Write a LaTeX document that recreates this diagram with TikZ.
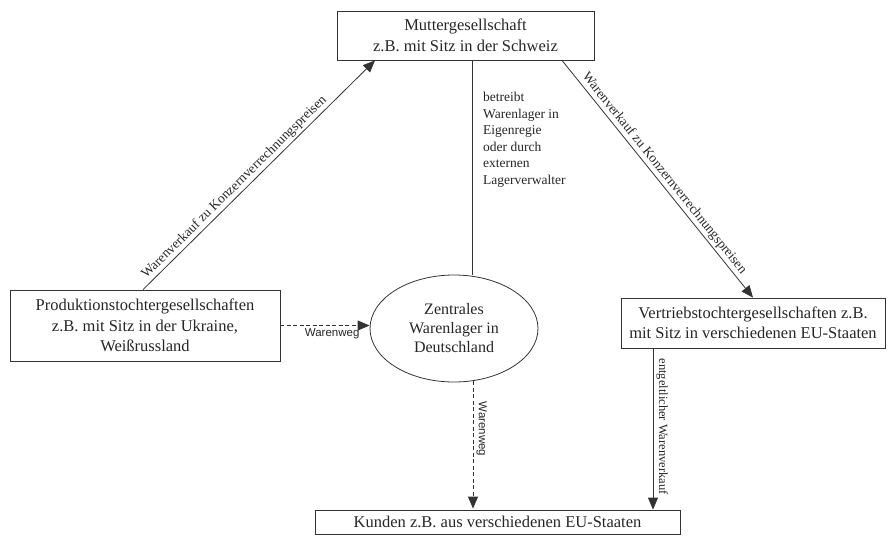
\documentclass[tikz,border=0pt]{standalone}
\usepackage{fontspec}
\setmainfont{Liberation Serif}
\newfontfamily\labsans{Liberation Sans}
\usetikzlibrary{arrows.meta,shapes.geometric,calc}
\begin{document}
\begin{tikzpicture}[x=1pt,y=-1pt,
  box/.style={draw=black!80, line width=0.8pt, rectangle, inner sep=0pt, align=center,
    font=\fontsize{16.5}{20.5}\selectfont, text=black!85},
  conn/.style={draw=black!80, line width=0.8pt},
  arr/.style={conn, -{Triangle[length=12pt,width=10pt]}},
  darr/.style={arr, dash pattern=on 4pt off 2.5pt},
  lab/.style={font=\fontsize{13.5}{16}\selectfont, text=black!85, inner sep=2pt},
  vlab/.style={font=\fontsize{12.5}{15}\selectfont, text=black!85, inner sep=3pt},
  slab/.style={font=\labsans\fontsize{11.5}{14}\selectfont, text=black!85, inner sep=3pt}
]
\useasboundingbox (0,0) rectangle (888,539);

\node[box, minimum width=257pt, minimum height=49pt] (top) at (465.5,35.5)
  {Muttergesellschaft\\z.B. mit Sitz in der Schweiz};
\node[box, minimum width=270pt, minimum height=71pt] (prod) at (145,325.5)
  {Produktionstochtergesellschaften\\z.B. mit Sitz in der Ukraine,\\Weißrussland};
\node[box, ellipse, minimum width=168pt, minimum height=107pt,
  font=\fontsize{16}{19}\selectfont] (lager) at (454,328.5)
  {Zentrales\\Warenlager in\\Deutschland};
\node[box, minimum width=264pt, minimum height=50pt] (vertr) at (753,323)
  {Vertriebstochtergesellschaften z.B.\\mit Sitz in verschiedenen EU-Staaten};
\node[box, minimum width=365pt, minimum height=24pt] (kunden) at (497.5,522)
  {Kunden z.B. aus verschiedenen EU-Staaten};
\node[lab, anchor=north west, align=left, inner sep=0pt,
  font=\fontsize{13.5}{16.6}\selectfont] (note) at (483,92)
  {betreibt\\Warenlager in\\Eigenregie\\oder durch\\externen\\Lagerverwalter};

\draw[arr] ([xshift=-2pt]prod.north) --
  node[lab, sloped, above, pos=0.42] {Warenverkauf zu Konzernverrechnungspreisen}
  ([xshift=-90.5pt]top.south);
\draw[arr] ([xshift=96.5pt]top.south) --
  node[lab, sloped, above, pos=0.5] {Warenverkauf zu Konzernverrechnungspreisen}
  (vertr.north);
\draw[conn] ([xshift=6.5pt]top.south) -- ([xshift=6.5pt]top.south |- lager.north);
\draw[darr] (prod.east) --
  node[slab, below, pos=0.58] {Warenweg}
  (prod.east -| lager.west);
\draw[darr] ([xshift=19pt,yshift=1pt]lager.south) --
  node[slab, sloped, above, pos=0.375] {Warenweg}
  ([xshift=19pt,yshift=1pt]lager.south |- kunden.north);
\draw[arr] ([xshift=-100pt]vertr.south) --
  node[vlab, sloped, above, pos=0.485] {entgeltlicher Warenverkauf}
  ([xshift=-100pt]vertr.south |- kunden.north);
\end{tikzpicture}
\end{document}
